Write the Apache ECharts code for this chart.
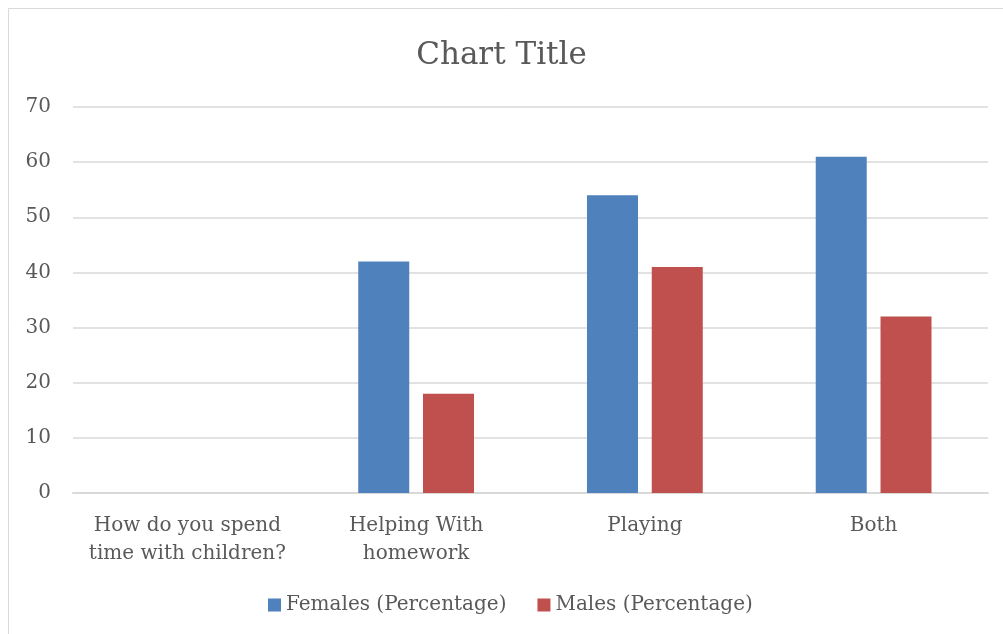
<!DOCTYPE html>
<html>
<head>
<meta charset="utf-8">
<script src="https://cdn.jsdelivr.net/npm/echarts@6/dist/echarts.min.js"></script>
<style>
  html, body { margin: 0; padding: 0; background: #fff; }
  #chart { width: 1003px; height: 634px; }
</style>
</head>
<body>
<div id="chart"></div>
<script>
const categories = ['How do you spend\ntime with children?', 'Helping With\nhomework', 'Playing', 'Both']
const females = [null, 42, 54, 61]
const males = [null, 18, 41, 32]
const yTicks = [0, 10, 20, 30, 40, 50, 60, 70]

const font = 'DejaVu Serif'
const textColor = '#595959'

var myChart = echarts.init(document.getElementById('chart'))
var option = {
    animation: false,
    textStyle: { fontFamily: font },
    graphic: [{
        type: 'rect',
        shape: { x: 8.5, y: 8.5, width: 1010, height: 640 },
        style: { fill: 'none', stroke: '#d9d9d9', lineWidth: 1 }
    }],
    title: {
        text: 'Chart Title',
        left: 'center',
        top: 35,
        textStyle: { fontFamily: font, fontSize: 31, fontWeight: 'normal', color: textColor }
    },
    legend: {
        bottom: 14,
        left: 263,
        itemWidth: 13,
        itemHeight: 13,
        itemGap: 31,
        icon: 'rect',
        textStyle: { fontFamily: font, fontSize: 20, color: textColor }
    },
    grid: { left: 73, right: 15, top: 107, bottom: 141 },
    xAxis: {
        type: 'category',
        data: categories,
        axisLine: { lineStyle: { color: '#d9d9d9', width: 2 } },
        axisTick: { show: false },
        axisLabel: { fontFamily: font, fontSize: 20, color: textColor, margin: 19, lineHeight: 28, interval: 0 }
    },
    yAxis: {
        type: 'value',
        min: yTicks[0],
        max: yTicks[yTicks.length - 1],
        interval: 10,
        axisLine: { show: false },
        axisTick: { show: false },
        splitLine: { lineStyle: { color: '#d9d9d9', width: 1.5 } },
        axisLabel: { fontFamily: font, fontSize: 20, color: textColor, margin: 22 }
    },
    series: [{
        name: 'Females (Percentage)',
        type: 'bar',
        data: females,
        barWidth: 51,
        barGap: '27%',
        itemStyle: { color: '#4F81BD' }
    }, {
        name: 'Males (Percentage)',
        type: 'bar',
        data: males,
        barWidth: 51,
        itemStyle: { color: '#C0504D' }
    }]
}
myChart.setOption(option)
</script>
</body>
</html>
